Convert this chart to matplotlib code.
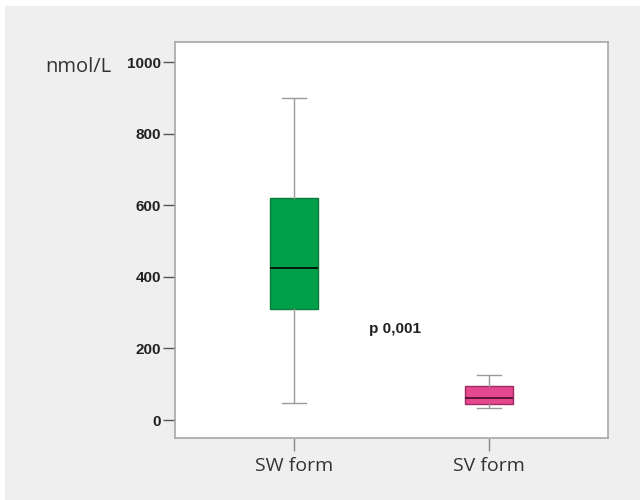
import numpy as np
import matplotlib
matplotlib.use("Agg")
from matplotlib import pyplot as plt
from matplotlib.patches import Rectangle

# box statistics (nmol/L)
groups = ["SW form", "SV form"]
whislo = [47, 34]
q1 = [310, 45]
med = [424, 62]
q3 = [620, 95]
whishi = [900, 126]
box_colors = ["#00a04a", "#e5488f"]
edge_colors = ["#0b7a3a", "#a02a62"]
p_text = "p 0,001"
yticks = [0, 200, 400, 600, 800, 1000]

stats = []
for i in range(len(groups)):
    stats.append({"label": groups[i], "whislo": whislo[i], "q1": q1[i],
                  "med": med[i], "q3": q3[i], "whishi": whishi[i], "fliers": []})

fig = plt.figure(figsize=(6.4, 5), dpi=100, facecolor="white")
fig.patches.append(Rectangle((5 / 640, 0), 1, 1 - 6 / 500, transform=fig.transFigure,
                             facecolor="#efefef", edgecolor="none", zorder=-10))

ax = fig.add_axes([175 / 640, 1 - 438 / 500, (608 - 175) / 640, (438 - 42) / 500])
ax.set_facecolor("white")

bp = ax.bxp(stats, positions=[1, 2], widths=0.25, patch_artist=True,
            showfliers=False,
            whiskerprops=dict(color="#9a9a9a", linewidth=1),
            capprops=dict(color="#9a9a9a", linewidth=1),
            capwidths=0.125)
for i, box in enumerate(bp["boxes"]):
    box.set_facecolor(box_colors[i])
    box.set_edgecolor(edge_colors[i])
    box.set_linewidth(1)
for i, m in enumerate(bp["medians"]):
    m.set_color("black" if i == 0 else "#4a0a28")
    m.set_linewidth(1.2)

ax.set_xlim(0.39, 2.61)
ax.set_ylim(-50, 1056)
ax.set_yticks(yticks)
ax.set_yticklabels([str(v) for v in yticks], fontfamily="Liberation Sans",
                   fontweight="bold", fontsize=11, color="#222222")
ax.set_xticks([1, 2])
ax.set_xticklabels(groups, fontfamily="Open Sans", fontsize=14, color="#333333")
ax.tick_params(axis="y", length=9, width=1, color="#555555", pad=1)
ax.tick_params(axis="x", length=9, width=1, color="#888888", pad=5)
for s in ax.spines.values():
    s.set_color("#a8a8a8")
    s.set_linewidth(1.2)

ax.text(1.518, 254, p_text, ha="center", va="center", fontfamily="Liberation Sans",
        fontweight="bold", fontsize=11, color="#222222")
fig.text(78 / 640, 1 - 67 / 500, "nmol/L", ha="center", va="center",
         fontfamily="Open Sans", fontsize=14.5, color="#333333")

fig.savefig("out.png", dpi=100, facecolor=fig.get_facecolor())
